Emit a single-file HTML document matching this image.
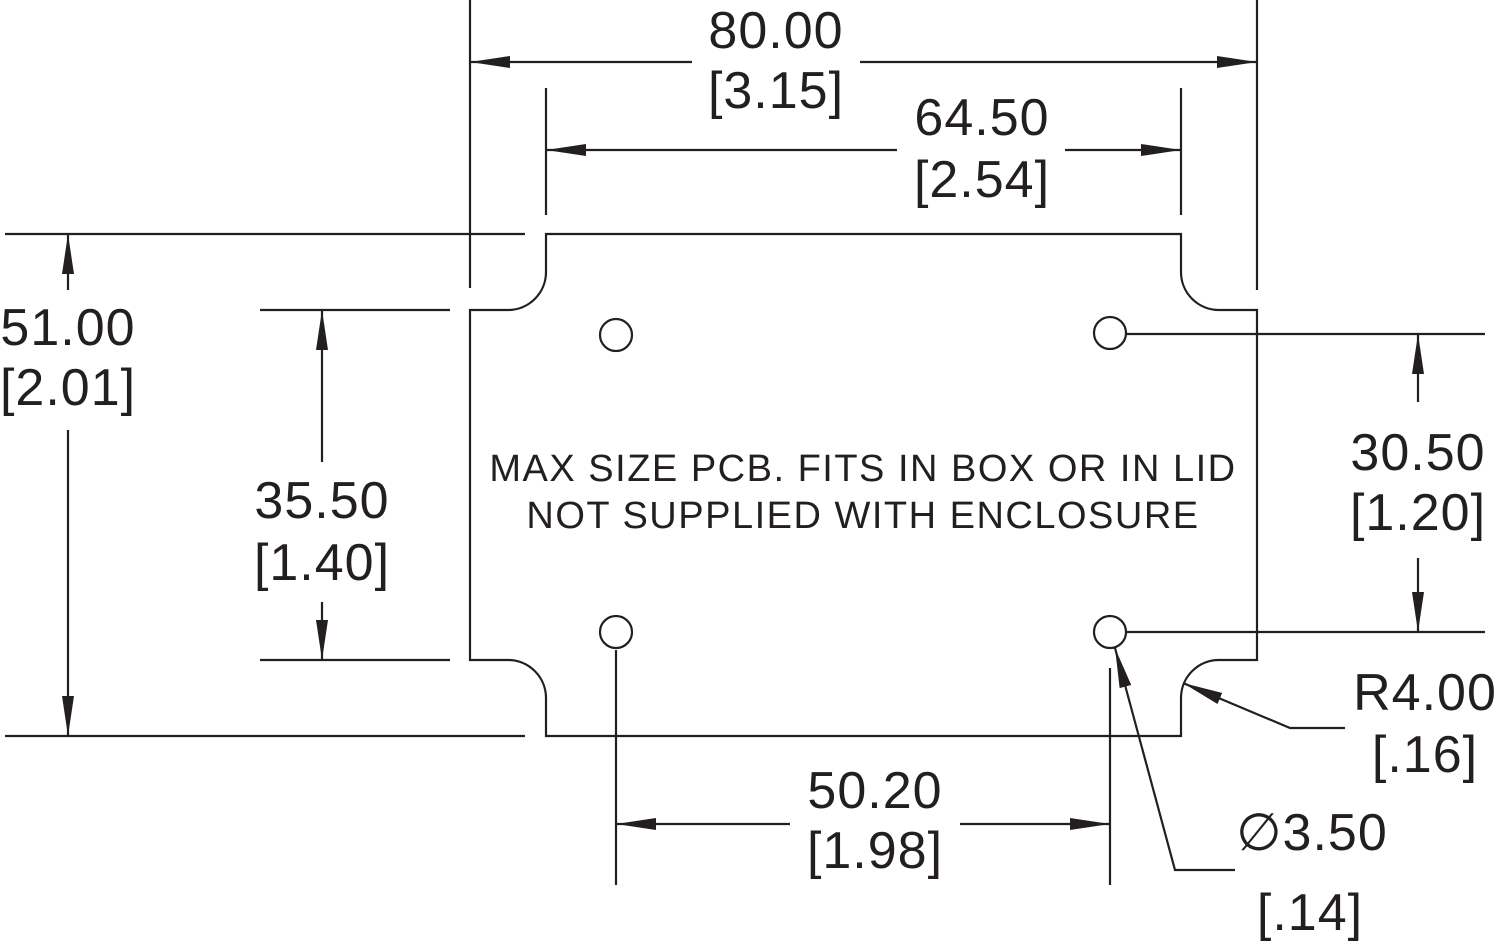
<!DOCTYPE html>
<html><head><meta charset="utf-8"><style>
html,body{margin:0;padding:0;background:#fff;}
svg{display:block;}
text{font-family:"Liberation Sans",sans-serif;fill:#231f20;}
.d{font-size:52px;text-anchor:middle;letter-spacing:1px;}
.n{font-size:38px;text-anchor:middle;letter-spacing:1.5px;}
</style></head><body>
<svg width="1500" height="946" viewBox="0 0 1500 946" xmlns="http://www.w3.org/2000/svg">
<defs>
<marker id="a" viewBox="0 0 40 12" refX="40" refY="6" markerWidth="40" markerHeight="12" markerUnits="userSpaceOnUse" orient="auto">
<path d="M0,0 L40,6 L0,12 Z" fill="#231f20"/></marker>
</defs>
<g stroke="#231f20" stroke-width="2.2" fill="none">
<path d="M546,234 L1181,234 L1181,272 A38,38 0 0 0 1219,310 L1257,310 L1257,660 L1219,660 A38,38 0 0 0 1181,698 L1181,736 L546,736 L546,698 A38,38 0 0 0 508,660 L470,660 L470,310 L508,310 A38,38 0 0 0 546,272 Z"/>
<circle cx="616" cy="335" r="16"/><circle cx="1110" cy="333" r="16"/>
<circle cx="616" cy="632" r="16"/><circle cx="1110" cy="632" r="16"/>
<line x1="470" y1="0" x2="470" y2="288"/><line x1="1257" y1="0" x2="1257" y2="290"/>
<line x1="546" y1="88" x2="546" y2="215"/><line x1="1181" y1="88" x2="1181" y2="215"/>
<line x1="5" y1="234" x2="525" y2="234"/><line x1="5" y1="736" x2="525" y2="736"/>
<line x1="260" y1="310" x2="450" y2="310"/><line x1="260" y1="660" x2="450" y2="660"/>
<line x1="1127" y1="334" x2="1485" y2="334"/><line x1="1127" y1="632" x2="1485" y2="632"/>
<line x1="616" y1="650" x2="616" y2="885"/><line x1="1110" y1="668" x2="1110" y2="885"/>
<line x1="692" y1="62" x2="470" y2="62" marker-end="url(#a)"/><line x1="860" y1="62" x2="1257" y2="62" marker-end="url(#a)"/>
<line x1="897" y1="150" x2="546" y2="150" marker-end="url(#a)"/><line x1="1065" y1="150" x2="1181" y2="150" marker-end="url(#a)"/>
<line x1="68" y1="290" x2="68" y2="234" marker-end="url(#a)"/><line x1="68" y1="430" x2="68" y2="736" marker-end="url(#a)"/>
<line x1="322" y1="462" x2="322" y2="310" marker-end="url(#a)"/><line x1="322" y1="602" x2="322" y2="660" marker-end="url(#a)"/>
<line x1="1418" y1="402" x2="1418" y2="334" marker-end="url(#a)"/><line x1="1418" y1="558" x2="1418" y2="632" marker-end="url(#a)"/>
<line x1="790" y1="824" x2="616" y2="824" marker-end="url(#a)"/><line x1="960" y1="824" x2="1110" y2="824" marker-end="url(#a)"/>
<polyline points="1345,728 1290,728 1183,683" marker-end="url(#a)"/>
<polyline points="1235,870 1175,870 1115,648" marker-end="url(#a)"/>
</g>
<text class="d" x="776" y="48">80.00</text><text class="d" x="776" y="108">[3.15]</text>
<text class="d" x="982" y="135">64.50</text><text class="d" x="982" y="197">[2.54]</text>
<text class="d" x="68" y="345">51.00</text><text class="d" x="68" y="405">[2.01]</text>
<text class="d" x="322" y="518">35.50</text><text class="d" x="322" y="580">[1.40]</text>
<text class="d" x="1418" y="470">30.50</text><text class="d" x="1418" y="530">[1.20]</text>
<text class="d" x="875" y="808">50.20</text><text class="d" x="875" y="868">[1.98]</text>
<text class="d" x="1425" y="710">R4.00</text><text class="d" x="1425" y="772">[.16]</text>
<text class="d" x="1312" y="850">∅3.50</text><text class="d" x="1310" y="930">[.14]</text>
<text class="n" x="863" y="481">MAX SIZE PCB. FITS IN BOX OR IN LID</text>
<text class="n" x="863" y="528">NOT SUPPLIED WITH ENCLOSURE</text>
</svg>
</body></html>
